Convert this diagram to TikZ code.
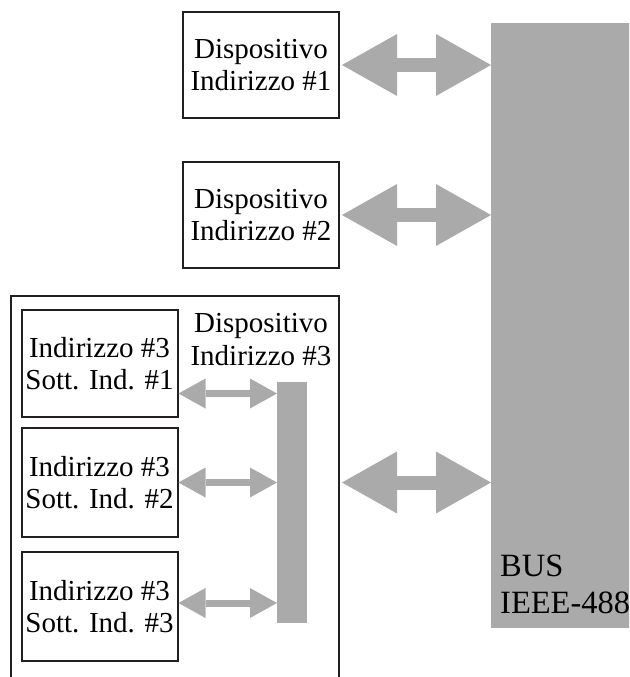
\documentclass[tikz,border=0pt]{standalone}
\usepackage{fontspec}
\setmainfont{Liberation Serif}
\usetikzlibrary{arrows.meta,calc}
\definecolor{busgray}{RGB}{170,170,170}
\definecolor{ink}{RGB}{35,31,32}
\begin{document}
\begin{tikzpicture}[x=1pt,y=-1pt,
  box/.style={draw=ink,line width=2pt,minimum width=156pt,align=center,inner sep=0pt,font=\fontsize{29}{32.5}\selectfont},
  lbl/.style={align=center,inner sep=0pt,font=\fontsize{29}{32.5}\selectfont},
  bar/.style={fill=busgray,draw=none,inner sep=0pt,outer sep=0pt},
  bigarrow/.style={draw=busgray,line width=14pt,{Triangle[length=55pt,width=62pt,line width=0pt]}-{Triangle[length=55pt,width=62pt,line width=0pt]}},
  smallarrow/.style={draw=busgray,line width=7pt,{Triangle[length=27pt,width=30pt,line width=0pt]}-{Triangle[length=27pt,width=30pt,line width=0pt]}}]
\useasboundingbox (0,0) rectangle (629,677);
\clip (0,0) rectangle (629,677);
% main bus
\node[bar,minimum width=150pt,minimum height=605pt] (bus) at (566,325.5) {};
\node[anchor=north west,align=left,inner sep=0pt,font=\fontsize{32.5}{37}\selectfont] (buslbl) at (500,555) {BUS\\IEEE-488};
% devices
\node[box,minimum height=106pt] (dev1) at (261,65) {Dispositivo\\Indirizzo \#1};
\node[box,minimum height=106pt] (dev2) at (261,215) {Dispositivo\\Indirizzo \#2};
% device 3 (open at bottom)
\node[draw=none,minimum width=328pt,minimum height=394pt,inner sep=0pt,outer sep=0pt] (dev3) at (175,493) {};
\draw[ink,line width=2pt] (dev3.south west) -- (dev3.north west) -- (dev3.north east) -- (dev3.south east);
\node[lbl] (dev3lbl) at (261,339.3) {Dispositivo\\Indirizzo \#3};
\node[box,minimum height=107pt] (sub1) at (99.5,363.5) {Indirizzo \#3\\Sott. Ind. \#1};
\node[box,minimum height=109pt] (sub2) at (99.5,482.5) {Indirizzo \#3\\Sott. Ind. \#2};
\node[box,minimum height=109pt] (sub3) at (99.5,606.5) {Indirizzo \#3\\Sott. Ind. \#3};
\node[bar,minimum width=30pt,minimum height=241pt] (sbus) at (292,502.5) {};
% connectors
\draw[bigarrow] ([xshift=2pt]dev1.east) -- (dev1.east -| bus.west);
\draw[bigarrow] ([xshift=2pt]dev2.east) -- (dev2.east -| bus.west);
\draw[bigarrow] ([xshift=3pt]dev3.east |- sub2.east) -- (bus.west |- sub2.east);
\draw[smallarrow] ($(sub1.east)+(0,30)$) -- ($(sub1.east -| sbus.west)+(0,30)$);
\draw[smallarrow] (sub2.east) -- (sub2.east -| sbus.west);
\draw[smallarrow] ($(sub3.east)+(0,-3.5)$) -- ($(sub3.east -| sbus.west)+(0,-3.5)$);
\end{tikzpicture}
\end{document}
